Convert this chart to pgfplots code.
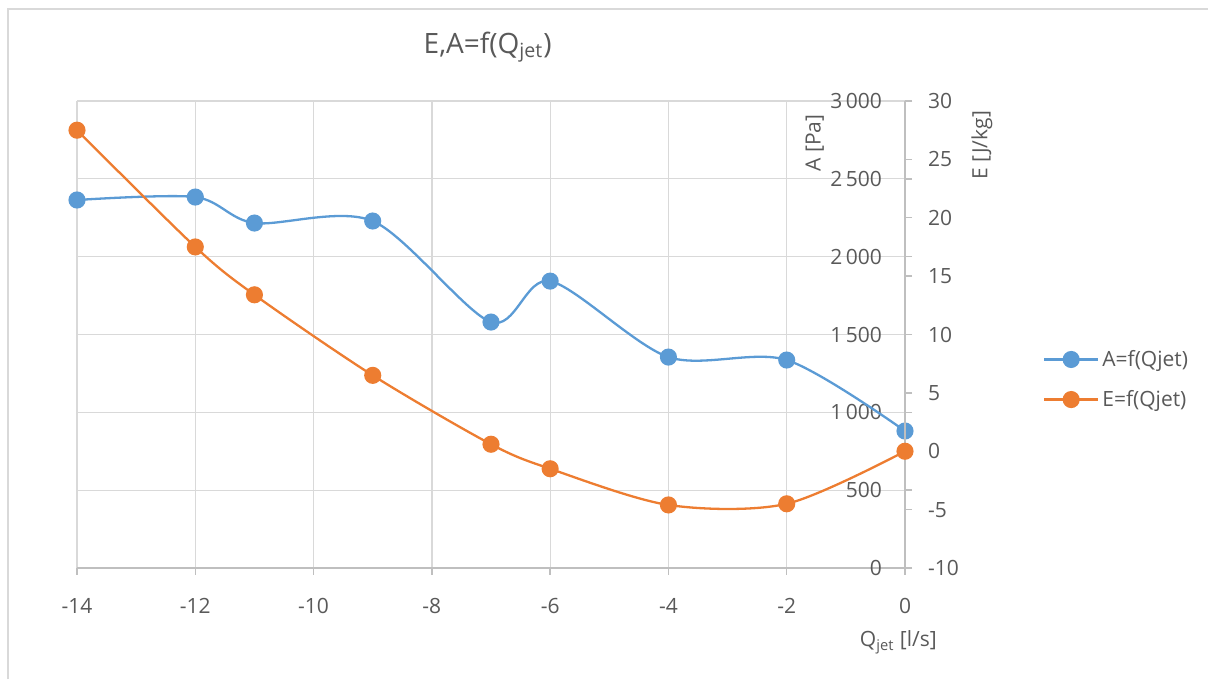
\documentclass[border=0pt]{standalone}
\usepackage{pgfplots}
\pgfplotsset{compat=1.18}
\usepackage{pgfplotstable}
\usepackage{fontspec}
\setmainfont{Open Sans}
\definecolor{txt}{HTML}{595959}
\definecolor{grd}{HTML}{D9D9D9}
\definecolor{axl}{HTML}{BFBFBF}
\definecolor{cA}{HTML}{5B9BD5}
\definecolor{cE}{HTML}{ED7D31}

\pgfplotstableread{
q A
-14 2364
-12 2383
-11 2216
-9 2229
-7 1580
-6 1843
-4 1355
-2 1336
0 880
}\tA

\pgfplotstableread{
q E
-14 27.5
-12 17.5
-11 13.4
-9 6.5
-7 0.6
-6 -1.5
-4 -4.6
-2 -4.5
0 0
}\tE

\pgfplotsset{
  common/.style={
    at={(38.5pt,55.5pt)}, anchor=south west,
    scale only axis, width=414pt, height=233.5pt,
    xmin=-14, xmax=0, clip=false,
    /pgf/number format/assume math mode=true,
    /pgf/number format/1000 sep={\,},
    scaled ticks=false,
    tick label style={font=\fontsize{10.5}{12}\selectfont, text=txt},
    label style={font=\fontsize{10.5}{12}\selectfont, text=txt},
    axis line style={axl, line width=0.7pt},
    tick style={axl, line width=0.7pt},
    tick align=outside, major tick length=3.5pt,
  },
  ser/.style={#1, line width=1.15pt, smooth, mark=*, mark size=3.7pt, mark options={fill=#1, draw=#1, solid}},
}

\begin{document}
\begin{tikzpicture}[x=1pt,y=1pt]
\useasboundingbox (0,0) rectangle (604,339.5);
\draw[grd, line width=0.7pt] (4,0) -- (4,335) -- (604,335);

\begin{axis}[common,
  ymin=0, ymax=3000,
  xtick={-14,-12,...,0}, ytick={0,500,...,3000},
  axis x line*=bottom, axis y line*=right,
  grid=major, major grid style={grd, line width=0.65pt},
  xticklabel style={yshift=-8pt},
  yticklabel style={anchor=east, xshift=-11.5pt},
  title={E,A=f(Q\textsubscript{jet})},
  title style={at={(axis description cs:0.496,1.077)}, anchor=base, font=\fontsize{14}{16}\selectfont, text=txt},
  xlabel={Q\textsubscript{jet} [l/s]},
  xlabel style={at={(axis description cs:0.992,-0.169)}, anchor=base},
  ylabel={A [Pa]},
  ylabel style={at={(axis description cs:0.891,0.91)}, anchor=center},
]
\addplot[ser=cA] table[x=q, y=A] {\tA};
\end{axis}

\begin{axis}[common,
  ymin=-10, ymax=30, ytick={-10,-5,...,30},
  axis x line=none, axis y line*=right,
  yticklabel style={xshift=4.5pt},
  ylabel={E [J/kg]},
  ylabel style={at={(axis description cs:1.093,0.905)}, anchor=center},
  legend style={at={(axis description cs:1.1667,0.4036)}, anchor=west, draw=none, fill=none,
    inner sep=0pt, outer sep=0pt, row sep=7.5pt,
    font=\fontsize{10.5}{12}\selectfont, text=txt,
    nodes={inner sep=1.5pt}},
  legend cell align=left,
  legend image code/.code={\draw[mark repeat=2,mark phase=2,#1] plot coordinates {(0pt,0pt) (13.5pt,0pt) (27pt,0pt)};},
]
\addlegendimage{ser=cA}
\addlegendentry{A=f(Qjet)}
\addplot[ser=cE] table[x=q, y=E] {\tE};
\addlegendentry{E=f(Qjet)}
\end{axis}
\end{tikzpicture}
\end{document}
